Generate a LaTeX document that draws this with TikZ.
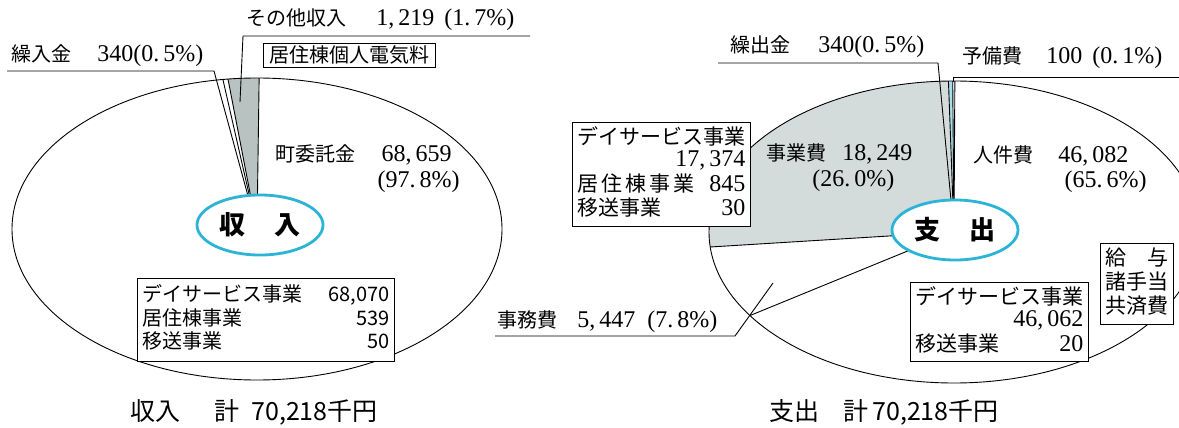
\documentclass[tikz,border=0pt]{standalone}
\usepackage{fontspec}
\setmainfont{Noto Sans CJK JP}
\newfontfamily\numfont{Liberation Serif}
\usetikzlibrary{shapes.geometric}
\definecolor{ringcyan}{HTML}{2BB4D6}
\definecolor{otherfill}{HTML}{B8C2C0}
\definecolor{costfill}{HTML}{D4DBDB}
\definecolor{stripfill}{HTML}{A9DDEB}
\newcommand{\nm}[1]{{\numfont\fontsize{24}{22}\selectfont #1}}

\begin{document}
\begin{tikzpicture}[x=1pt,y=-1pt,line width=0.9pt,
    lbl/.style={inner sep=0pt,font=\fontsize{20}{22}\selectfont},
    note/.style={draw,fill=white,anchor=north west,inner xsep=5pt,inner ysep=4pt,font=\fontsize{21}{22}\selectfont},
    ring/.style={ellipse,draw=ringcyan,line width=2.8pt,fill=white,minimum width=126pt,minimum height=60pt,inner sep=0pt,font=\fontsize{26}{26}\selectfont\bfseries},
    total/.style={inner sep=0pt,font=\fontsize{25}{25}\selectfont}]
    \clip (0,0) rectangle (1179,428);

    \coordinate (cin) at (257,229);
    \coordinate (cout) at (954,232);

    \fill[white] (cin) ellipse [x radius=245,y radius=151];
    \fill[otherfill] (cin) -- ++(-89.5:245 and 151) arc[start angle=-89.5,end angle=-96.8,x radius=245,y radius=151] -- cycle;
    \draw (cin) ellipse [x radius=245,y radius=151];
    \foreach \a in {-89.5,-96.8,-98}
        \draw (cin) -- ++(\a:245 and 151);
    \draw (7,71) -- (214,71) -- (cin);
    \draw (530,36) -- (243,36) -- (240,102);

    \fill[white] (cout) ellipse [x radius=245,y radius=151];
    \fill[costfill] (cout) -- ++(-91.3:245 and 151) arc[start angle=-91.3,end angle=-185.7,x radius=245,y radius=151] -- cycle;
    \fill[stripfill] (cout) -- ++(-90.3:245 and 151) arc[start angle=-90.3,end angle=-91.3,x radius=245,y radius=151] -- cycle;
    \draw (cout) ellipse [x radius=245,y radius=151];
    \foreach \a in {-89.8,-90.3,-91.3,-185.7,-213.6}
        \draw (cout) -- ++(\a:245 and 151);
    \draw (718,63) -- (938,63) -- (cout);
    \draw (1179,77) -- (953,77) -- ++(0,5);
    \draw (495,336) -- (735,336) -- (773,283);

    \node[lbl,anchor=west] (i1) at (11,56) {繰入金\hspace{26pt}\nm{340(0.\,5\%)}};
    \node[lbl,anchor=west] (i2) at (246,20) {その他収入\hspace{30pt}\nm{1,\,219\hspace{10pt}(1.\,7\%)}};
    \node[note,inner xsep=6pt,inner ysep=2.5pt,font=\fontsize{20}{22}\selectfont] (i3) at (263,43) {居住棟個人電気料};
    \node[lbl,anchor=east] (i4) at (452,155) {町委託金\hspace{26pt}\nm{68,\,659}};
    \node[lbl,anchor=east] (i5) at (460,182) {\nm{(97.\,8\%)}};
    \node[note,inner ysep=6.5pt,font=\fontsize{20}{21}\selectfont] (i6) at (137,278) {\begin{tabular}{@{}l@{\hspace{26pt}}r@{}}
        デイサービス事業 & 68,070\\
        居住棟事業 & 539\\
        移送事業 & 50
    \end{tabular}};
    \node[ring] (in) at (260,225) {収\hspace{30pt}入};
    \node[total] (tin) at (254,412) {収入\hspace{34pt}計\hspace{12pt}70,218千円};

    \node[lbl,anchor=west] (o1) at (730,47) {繰出金\hspace{28pt}\nm{340(0.\,5\%)}};
    \node[lbl,anchor=west] (o2) at (962,58) {予備費\hspace{24pt}\nm{100\hspace{10pt}(0.\,1\%)}};
    \node[lbl,anchor=west] (o3) at (766,154) {事業費\hspace{16pt}\nm{18,\,249}};
    \node[lbl,anchor=west] (o4) at (812,181) {\nm{(26.\,0\%)}};
    \node[lbl,anchor=west] (o5) at (973,156) {人件費\hspace{25pt}\nm{46,\,082}};
    \node[lbl,anchor=east] (o6) at (1147,182) {\nm{(65.\,6\%)}};
    \node[lbl,anchor=west] (o7) at (497,322) {事務費\hspace{20pt}\nm{5,\,447\hspace{12pt}(7.\,8\%)}};
    \node[note] (o8) at (572,122) {\begin{tabular}{@{}l@{}r@{}}
        \multicolumn{2}{@{}l@{}}{デイサービス事業}\\
        \multicolumn{2}{@{}r@{}}{\nm{17,\,374}}\\
        居\hspace{3pt}住\hspace{3pt}棟\hspace{3pt}事\hspace{3pt}業\hspace{6pt} & \nm{845}\\
        移送事業 & \nm{30}
    \end{tabular}};
    \node[note] (o9) at (910,282) {\begin{tabular}{@{}l@{}r@{}}
        \multicolumn{2}{@{}l@{}}{デイサービス事業}\\
        \multicolumn{2}{@{}r@{}}{\nm{46,\,062}}\\
        移送事業 & \nm{20}
    \end{tabular}};
    \node[note] (o10) at (1100,243) {\begin{tabular}{@{}l@{}}
        給\hspace{21pt}与\\
        諸手当\\
        共済費
    \end{tabular}};
    \node[ring] (out) at (955,230) {支\hspace{30pt}出};
    \node[total] (tout) at (884,412) {支出\hspace{24pt}計\hspace{4pt}70,218千円};
\end{tikzpicture}
\end{document}
